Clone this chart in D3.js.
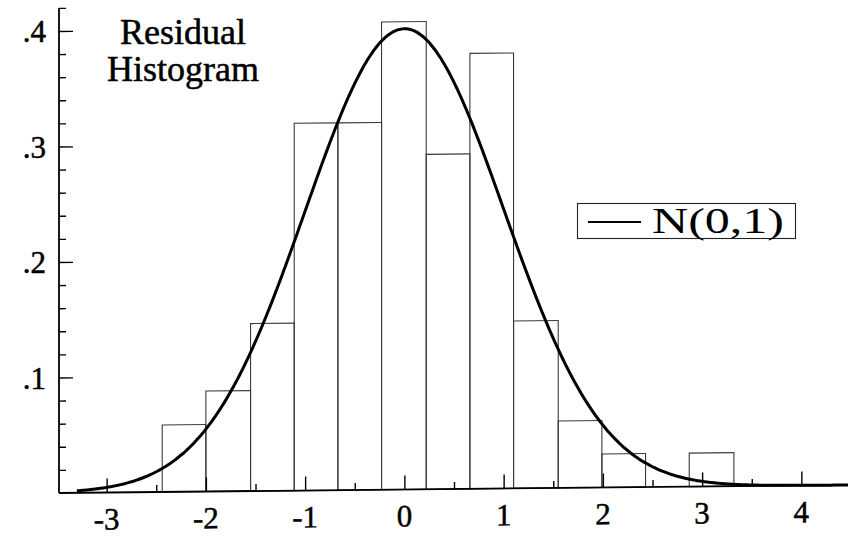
<!DOCTYPE html>
<html><head><meta charset="utf-8">
<script src="https://cdn.jsdelivr.net/npm/d3@7"></script>
<style>body{margin:0;background:#fff}svg{display:block}</style>
</head><body>
<script>
// Histogram bins (left/right edges) and density heights
const binEdges = [-2.44, -2.00, -1.55, -1.11, -0.67, -0.23, 0.22, 0.66, 1.10, 1.55, 1.99, 2.43, 2.87, 3.32];
const densities = [0.058, 0.087, 0.145, 0.318, 0.318, 0.405, 0.290, 0.377, 0.145, 0.058, 0.029, 0, 0.029];
const xTickLabels = [-3, -2, -1, 0, 1, 2, 3, 4];
const yTickLabels = [0.1, 0.2, 0.3, 0.4];
const titleLines = ["Residual", "Histogram"];
const legendLabel = "N(0,1)";
const normMean = 0, normSd = 1;

const W = 848, H = 542;
const x = d3.scaleLinear().domain([-3.48, 4.5]).range([59, 851]);
const y = d3.scaleLinear().domain([0, 0.42]).range([493, 7.9]);

const svg = d3.select("body").append("svg").attr("width", W).attr("height", H)
  .style("font-family", "'Liberation Serif', 'Times New Roman', serif");

const g = svg.append("g")
  .attr("transform", `translate(59,493) skewY(-0.58) translate(-59,-493)`);

// bars
const bins = densities.map((d, i) => ({x0: binEdges[i], x1: binEdges[i + 1], v: d}));
g.append("g").selectAll("rect").data(bins.filter(b => b.v > 0)).join("rect")
  .attr("x", d => x(d.x0)).attr("width", d => x(d.x1) - x(d.x0))
  .attr("y", d => y(d.v)).attr("height", d => y(0) - y(d.v))
  .attr("fill", "none").attr("stroke", "#3a3a3a").attr("stroke-width", 1.1);

// axes
const xAxis = d3.axisTop(x).tickValues(d3.range(-3, 4.51, 0.5)).tickSize(0).tickFormat("");
const gx = g.append("g").attr("transform", `translate(0,${y(0)})`).call(xAxis);
gx.select(".domain").remove();
g.append("line").attr("x1", x(-3.48)).attr("x2", x(4.5)).attr("y1", y(0)).attr("y2", y(0))
  .attr("stroke", "#000").attr("stroke-width", 1.8);
gx.selectAll(".tick line")
  .attr("y2", d => Number.isInteger(d) ? -14 : -7)
  .attr("stroke", "#000").attr("stroke-width", 1.4);

const yAxis = d3.axisRight(y).tickValues(d3.range(0.02, 0.421, 0.02)).tickSize(0).tickFormat("");
const gy = g.append("g").attr("transform", `translate(${x(-3.48)},0)`).call(yAxis);
gy.select(".domain").remove();
g.append("line").attr("x1", x(-3.48)).attr("x2", x(-3.48)).attr("y1", y(0)).attr("y2", y(0.42))
  .attr("stroke", "#000").attr("stroke-width", 1.8);
gy.selectAll(".tick line")
  .attr("x2", d => Math.abs(d * 10 - Math.round(d * 10)) < 1e-6 ? 14 : 7)
  .attr("stroke", "#000").attr("stroke-width", 1.4);

// normal curve
const pdf = v => Math.exp(-0.5 * ((v - normMean) / normSd) ** 2) / (normSd * Math.sqrt(2 * Math.PI));
const pts = d3.range(-3.3, 4.5001, 0.02).map(v => [v, pdf(v)]);
g.append("path").datum(pts)
  .attr("d", d3.line().x(d => x(d[0])).y(d => y(d[1])).curve(d3.curveBasis))
  .attr("fill", "none").attr("stroke", "#000").attr("stroke-width", 3);

const ink = (sel, w) => sel.attr("fill", "#000").attr("stroke", "#000").attr("stroke-width", w);

// x labels
g.append("g").selectAll("text").data(xTickLabels).join("text")
  .attr("x", d => x(d)).attr("y", 530)
  .attr("text-anchor", "middle").attr("font-size", 31)
  .call(ink, 0.5).text(d => d);

// y labels
svg.append("g").selectAll("text").data(yTickLabels).join("text")
  .attr("x", 46).attr("y", d => y(d) + 11)
  .attr("text-anchor", "end").attr("font-size", 31)
  .call(ink, 0.5).text(d => d3.format(".1f")(d).replace(/^0/, ""));

// title
svg.append("g").selectAll("text").data(titleLines).join("text")
  .attr("x", 183).attr("y", (d, i) => 44 + i * 37)
  .attr("text-anchor", "middle").attr("font-size", 36)
  .call(ink, 0.5).text(d => d);

// legend
const lg = svg.append("g");
lg.append("rect").attr("x", 577.5).attr("y", 203.5).attr("width", 218).attr("height", 35)
  .attr("fill", "#fff").attr("stroke", "#222").attr("stroke-width", 1.1);
lg.append("line").attr("x1", 588).attr("x2", 641).attr("y1", 222).attr("y2", 222)
  .attr("stroke", "#000").attr("stroke-width", 2);
lg.append("text").attr("x", 652).attr("y", 233).attr("font-size", 35)
  .attr("textLength", 132).attr("lengthAdjust", "spacingAndGlyphs")
  .call(ink, 0).text(legendLabel);
</script>
</body></html>
